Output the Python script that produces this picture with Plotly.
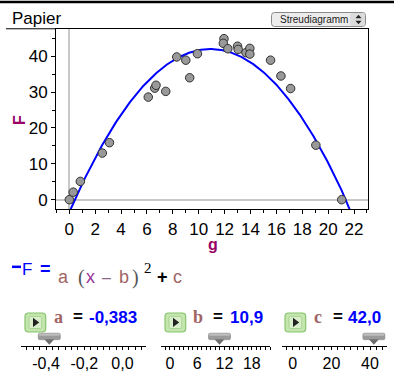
import numpy as np
import plotly.graph_objects as go

W, H = 394, 372

# Measurements: g (cm) against F
g_vals = [0.0, 0.3, 0.85, 2.55, 3.1, 6.1, 6.6, 6.7, 7.45, 8.3, 9.0, 9.3, 9.9,
          11.95, 11.9, 12.25, 13.0, 13.05, 13.65, 13.95, 13.95, 15.55, 16.35,
          17.1, 19.05, 21.05]
F_vals = [0.0, 2.1, 5.1, 13.0, 15.9, 28.6, 31.1, 31.9, 30.2, 39.8, 38.9, 34.0,
          40.7, 44.9, 43.6, 42.1, 42.8, 41.9, 41.0, 42.2, 40.6, 38.9, 34.5,
          31.0, 15.2, 0.0]

# Slider parameters of the model F = a (x - b)^2 + c
a_val, b_val, c_val = -0.383, 10.9, 42.0

# Slider scale labels
a_ticks = [-0.4, -0.2, 0.0]
a_ticktext = ["-0,4", "-0,2", "0,0"]
b_ticks = [0, 6, 12, 18]
c_ticks = [0, 20, 40]

FONT = "Liberation Sans, Arial, sans-serif"
AXIS_COL = "#990066"
PARAM_COL = "#a06464"


def px(x):
    return x / W


def py(y):
    return 1 - y / H


def rrect(x0, y0, x1, y1, r):
    """Rounded rectangle path in pixel coords (y downwards)."""
    pts = [
        f"M{x0 + r},{-y0}", f"L{x1 - r},{-y0}", f"Q{x1},{-y0} {x1},{-(y0 + r)}",
        f"L{x1},{-(y1 - r)}", f"Q{x1},{-y1} {x1 - r},{-y1}", f"L{x0 + r},{-y1}",
        f"Q{x0},{-y1} {x0},{-(y1 - r)}", f"L{x0},{-(y0 + r)}",
        f"Q{x0},{-y0} {x0 + r},{-y0}", "Z",
    ]
    return " ".join(pts)


def poly(points):
    return "M" + " L".join(f"{x},{-y}" for x, y in points) + " Z"


def pix_shape(path, **kw):
    return dict(type="path", xref="paper", yref="paper", xsizemode="pixel",
                ysizemode="pixel", xanchor=0, yanchor=1, path=path, **kw)


def text(x, y, s, size=16, color="black", anchor="center", family=FONT, **kw):
    return dict(x=px(x), y=py(y), xref="paper", yref="paper", text=s,
                showarrow=False, xanchor=anchor, yanchor="middle",
                font=dict(size=size, color=color, family=family), **kw)


fig = go.Figure()

# fitted parabola
xs = np.linspace(-1.2, 23.2, 400)
fig.add_trace(go.Scatter(x=xs, y=a_val * (xs - b_val) ** 2 + c_val, mode="lines",
                         line=dict(color="#0000ff", width=2), hoverinfo="skip"))

# scatter points
fig.add_trace(go.Scatter(x=g_vals, y=F_vals, mode="markers",
                         marker=dict(size=8.5, color="#999999",
                                     line=dict(color="#303030", width=1))))

# invisible anchors so the slider axes get drawn
for i, v in zip((2, 3, 4), (a_val, b_val, c_val)):
    fig.add_trace(go.Scatter(x=[v], y=[0.5], xaxis=f"x{i}", yaxis=f"y{i}",
                             mode="markers", marker=dict(opacity=0),
                             hoverinfo="skip"))

common_axis = dict(showline=True, linecolor="black", linewidth=1, ticks="outside",
                   tickcolor="black", showgrid=False, fixedrange=True,
                   tickfont=dict(family=FONT, size=17, color="black"))

layout = dict(
    width=W, height=H, autosize=False, margin=dict(l=0, r=0, t=0, b=0),
    paper_bgcolor="white", plot_bgcolor="white", showlegend=False,
    xaxis=dict(domain=[px(56), px(368)], range=[-1.03, 23.08], tick0=0, dtick=2,
               ticklen=4, mirror=True, zeroline=True, zerolinecolor="#c8c8c8",
               zerolinewidth=2,
               minor=dict(dtick=1, tick0=0, ticklen=3, ticks="outside",
                          tickcolor="black"),
               **common_axis),
    yaxis=dict(domain=[py(211), py(29)], range=[-2.68, 47.66], tick0=0, dtick=10,
               ticklen=4, mirror=True, zeroline=True, zerolinecolor="#c8c8c8",
               zerolinewidth=2,
               minor=dict(dtick=5, tick0=0, ticklen=3, ticks="outside",
                          tickcolor="black"),
               **common_axis),
)

slider_axes = [
    (2, [21, 146], [-0.531, 0.123], a_ticks, a_ticktext, -0.4, 0.2 / 6),
    (3, [161, 270], [-1.96, 22.0], b_ticks, [str(t) for t in b_ticks], 0, 1),
    (4, [282, 387], [-5.6, 48.8], c_ticks, [str(t) for t in c_ticks], 0, 20 / 6),
]
for i, dom, rng, tv, tt, t0, dt in slider_axes:
    ax = dict(common_axis)
    ax["tickfont"] = dict(family=FONT, size=16, color="black")
    layout[f"xaxis{i}"] = dict(domain=[px(dom[0]), px(dom[1])], range=rng,
                               anchor=f"y{i}", tickmode="array", tickvals=tv,
                               ticktext=tt, ticklen=3, zeroline=False,
                               minor=dict(tickmode="linear", tick0=t0, dtick=dt,
                                          ticklen=3, ticks="outside",
                                          tickcolor="black"),
                               **ax)
    layout[f"yaxis{i}"] = dict(domain=[py(349), py(340)], range=[0, 1],
                               anchor=f"x{i}", visible=False, fixedrange=True)

fig.update_layout(**layout)

shapes = []
# header rule and frame extension under the title
shapes.append(pix_shape(poly([(0, 0.8), (W, 0.8), (W, 3.2), (0, 3.2)]),
                        fillcolor="black", line=dict(width=0)))
shapes.append(dict(type="line", xref="paper", yref="paper", x0=px(6), x1=px(56),
                   y0=py(29), y1=py(29), line=dict(color="black", width=1)))

# view selector box
shapes.append(pix_shape(rrect(271.5, 12.5, 365.5, 26.5, 3), fillcolor="#ececec",
                        line=dict(color="#8a8a8a", width=1)))
shapes.append(pix_shape(rrect(350, 13, 365, 26, 2.5), fillcolor="#dcdcdc",
                        line=dict(width=0)))
shapes.append(pix_shape(poly([(355.5, 18.2), (361.5, 18.2), (358.5, 14.8)]),
                        fillcolor="#222", line=dict(width=0)))
shapes.append(pix_shape(poly([(355.5, 20.8), (361.5, 20.8), (358.5, 24.2)]),
                        fillcolor="#222", line=dict(width=0)))

# legend dash before the formula
shapes.append(dict(type="line", xref="paper", yref="paper", x0=px(12), x1=px(21),
                   y0=py(269), y1=py(269), line=dict(color="#0000ff", width=2.5)))

# play buttons
for bx in (25, 165, 285):
    shapes.append(pix_shape(rrect(bx, 313, bx + 20.7, 332, 3.5), fillcolor="#c4e6ae",
                            line=dict(color="#86c46c", width=1.2)))
    shapes.append(pix_shape(rrect(bx + 4, 316.5, bx + 16.7, 328.5, 1.5),
                            fillcolor="#d9efcb", line=dict(color="#9fcf88", width=0.8)))
    shapes.append(pix_shape(poly([(bx + 8, 317.8), (bx + 8, 327), (bx + 14.2, 322.4)]),
                            fillcolor="#222222", line=dict(width=0)))

# slider handles, placed at each parameter value
for i, v in zip((2, 3, 4), (a_val, b_val, c_val)):
    base = dict(type="path", xref=f"x{i}", yref="paper", xsizemode="pixel",
                ysizemode="pixel", xanchor=v, yanchor=py(349))
    shapes.append(dict(base, path=rrect(-11, -13, 11, -6.5, 1.5),
                       fillcolor="#9a9a9a", line=dict(color="#888888", width=0.6)))
    shapes.append(dict(base, path=rrect(-10.5, -12.6, 10.5, -10.5, 1),
                       fillcolor="#bdbdbd", line=dict(width=0)))
    shapes.append(dict(base, path=poly([(-5, -7), (5, -7), (0, -1.5)]),
                       fillcolor="#6e6e6e", line=dict(width=0)))

fig.update_layout(shapes=shapes)

ann = []
ann.append(text(10, 19, "Papier", size=17, anchor="left"))
ann.append(text(278, 19.5, "Streudiagramm", size=10, color="#222", anchor="left"))
ann.append(text(19, 121, "<b>F</b>", size=16, color=AXIS_COL, textangle=-90))
ann.append(text(213, 246, "<b>g</b>", size=16, color=AXIS_COL))

# formula line
ann.append(text(27, 271.5, "F", size=17, color="#0000ff"))
ann.append(text(45.5, 271, "<b>=</b>", size=18, color="#0000ff"))
ann.append(text(64, 279, "a", size=18, color=PARAM_COL))
ann.append(text(81, 280, "(", size=20, color="#555", family="Liberation Serif, serif"))
ann.append(text(90.5, 279, "x", size=18, color="#993399"))
ann.append(text(107, 280, "\u2013", size=16, color="#8a6a8a"))
ann.append(text(124, 279, "b", size=18, color=PARAM_COL))
ann.append(text(135, 280, ")", size=20, color="#555", family="Liberation Serif, serif"))
ann.append(text(147.5, 270, "2", size=15, color="black", family="Liberation Serif, serif"))
ann.append(text(162.5, 279.5, "<b>+</b>", size=18))
ann.append(text(177.5, 279, "c", size=18, color=PARAM_COL))

# slider captions
captions = [
    ("a", a_val, f"{a_val:.3f}", 58, 78, 112.5),
    ("b", b_val, f"{b_val:.1f}", 198, 218, 246),
    ("c", c_val, f"{c_val:.1f}", 318, 337.5, 364.5),
]
for name, _, val, xn, xe, xv in captions:
    ann.append(text(xn, 319.5, f"<b>{name}</b>", size=18, color=PARAM_COL,
                    family="Liberation Serif, serif"))
    ann.append(text(xe, 319.5, "<b>=</b>", size=17))
    ann.append(text(xv, 320.5, f"<b>{val.replace('.', ',')}</b>", size=17,
                    color="#0000ff"))

fig.update_layout(annotations=ann)

fig.write_html("out.html", config=dict(displayModeBar=False))
